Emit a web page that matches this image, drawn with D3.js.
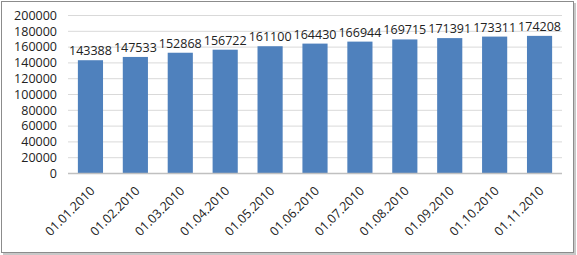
<!DOCTYPE html>
<html>
<head>
<meta charset="utf-8">
<script src="https://cdn.jsdelivr.net/npm/d3@7"></script>
<style>
  body { margin: 0; background: #fff; }
  text { font-family: "Open Sans", "DejaVu Sans", sans-serif; }
</style>
</head>
<body>
<svg id="chart"></svg>
<script>
const dates = ["01.01.2010", "01.02.2010", "01.03.2010", "01.04.2010", "01.05.2010", "01.06.2010",
    "01.07.2010", "01.08.2010", "01.09.2010", "01.10.2010", "01.11.2010"];
const counts = [143388, 147533, 152868, 156722, 161100, 164430, 166944, 169715, 171391, 173311, 174208];
const yTicks = [0, 20000, 40000, 60000, 80000, 100000, 120000, 140000, 160000, 180000, 200000];

const width = 577, height = 255;
const margin = {top: 15.5, right: 15, bottom: 81.5, left: 68};

const svg = d3.select("#chart")
    .attr("width", width)
    .attr("height", height);

// outer frame with a bit of shadow on right/bottom
svg.append("rect")
    .attr("x", 3).attr("y", 3)
    .attr("width", width - 4).attr("height", height - 3)
    .attr("fill", "#c8c8c8");
svg.append("rect")
    .attr("x", 1.5).attr("y", 1.5)
    .attr("width", width - 5).attr("height", height - 4)
    .attr("fill", "#fff")
    .attr("stroke", "#8c8c8c")
    .attr("stroke-width", 1);

const x = d3.scaleBand()
    .domain(dates)
    .range([margin.left, width - margin.right])
    .paddingInner(0.44)
    .paddingOuter(0.22);

const y = d3.scaleLinear()
    .domain([0, 200000])
    .range([height - margin.bottom, margin.top]);

// gridlines
svg.append("g")
    .selectAll("line")
    .data(yTicks.slice(1))
    .enter()
    .append("line")
    .attr("x1", margin.left)
    .attr("x2", width - margin.right)
    .attr("y1", d => y(d))
    .attr("y2", d => y(d))
    .attr("stroke", "#d9d9d9")
    .attr("stroke-width", 1);

// y labels
svg.append("g")
    .selectAll("text")
    .data(yTicks)
    .enter()
    .append("text")
    .attr("x", 57)
    .attr("y", d => y(d))
    .attr("dy", "0.35em")
    .attr("text-anchor", "end")
    .attr("font-size", "12.5px")
    .attr("fill", "#222")
    .text(d => d);

// bars
svg.append("g")
    .selectAll("rect")
    .data(counts)
    .enter()
    .append("rect")
    .attr("x", (d, i) => x(dates[i]))
    .attr("y", d => y(d))
    .attr("width", x.bandwidth())
    .attr("height", d => y(0) - y(d))
    .attr("fill", "#4f81bd");

// axis line
svg.append("line")
    .attr("x1", margin.left)
    .attr("x2", width - margin.right)
    .attr("y1", y(0))
    .attr("y2", y(0))
    .attr("stroke", "#c0c0c0")
    .attr("stroke-width", 1.5);

// value labels
svg.append("g")
    .selectAll("text")
    .data(counts)
    .enter()
    .append("text")
    .attr("x", (d, i) => x(dates[i]) + x.bandwidth() / 2)
    .attr("y", d => y(d) - 5)
    .attr("text-anchor", "middle")
    .attr("font-size", "12.5px")
    .attr("fill", "#222")
    .text(d => d);

// rotated date labels
svg.append("g")
    .selectAll("text")
    .data(dates)
    .enter()
    .append("text")
    .attr("transform", d => `translate(${x(d) + x.bandwidth() / 2 + 2}, ${y(0) + 15}) rotate(-45)`)
    .attr("text-anchor", "end")
    .attr("dy", "0.35em")
    .attr("font-size", "12.5px")
    .attr("fill", "#222")
    .text(d => d);
</script>
</body>
</html>
